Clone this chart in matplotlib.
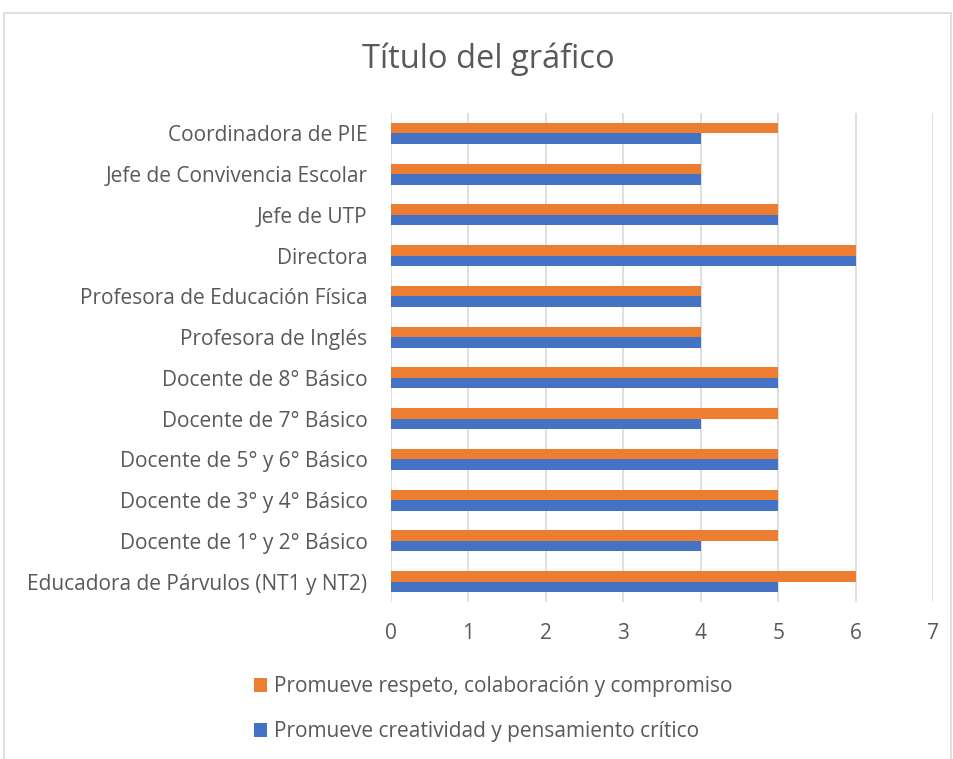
import numpy as np
import matplotlib.pyplot as plt
from matplotlib.patches import Rectangle

categories = [
    "Educadora de Párvulos (NT1 y NT2)",
    "Docente de 1° y 2° Básico",
    "Docente de 3° y 4° Básico",
    "Docente de 5° y 6° Básico",
    "Docente de 7° Básico",
    "Docente de 8° Básico",
    "Profesora de Inglés",
    "Profesora de Educación Física",
    "Directora",
    "Jefe de UTP",
    "Jefe de Convivencia Escolar",
    "Coordinadora de PIE",
]
creatividad = [5, 4, 5, 5, 4, 5, 4, 4, 6, 5, 4, 4]
respeto = [6, 5, 5, 5, 5, 5, 4, 4, 6, 5, 4, 5]

label_creatividad = "Promueve creatividad y pensamiento crítico"
label_respeto = "Promueve respeto, colaboración y compromiso"

plt.rcParams['font.family'] = ['Open Sans', 'DejaVu Sans']
gray = "#595959"

fig = plt.figure(figsize=(9.54, 7.59), dpi=100)
fig.patches.append(Rectangle((4.5 / 954, -0.05), 947 / 954, 1.05 - 13 / 759,
                             transform=fig.transFigure, fill=False,
                             edgecolor="#d9d9d9", linewidth=1.2))

ax = fig.add_axes([391 / 954, 1 - 602 / 759, 542 / 954, 489 / 759])

y = np.arange(len(categories))
h = 0.26
b1 = ax.barh(y - h / 2, creatividad, height=h, color="#4472C4", label=label_creatividad, zorder=3)
b2 = ax.barh(y + h / 2, respeto, height=h, color="#ED7D31", label=label_respeto, zorder=3)

ax.set_xlim(0, 7)
ax.set_ylim(-0.5, len(categories) - 0.5)
ax.set_xticks(range(8))
ax.set_yticks(y)
ax.set_yticklabels(categories)
ax.grid(axis='x', color="#d9d9d9", linewidth=1.2, zorder=0)
for s in ax.spines.values():
    s.set_visible(False)
ax.tick_params(axis='both', length=0, labelsize=15, labelcolor=gray)
ax.tick_params(axis='y', pad=17)
ax.tick_params(axis='x', pad=15)

fig.text(488 / 954, 1 - 59 / 759, "Título del gráfico", ha='center', va='center',
         fontsize=23.5, color=gray)

fig.legend([b2, b1], [label_respeto, label_creatividad], loc='center',
           bbox_to_anchor=(493 / 954, 1 - 709 / 759), frameon=False,
           fontsize=15, labelcolor=gray, handlelength=0.65, handleheight=0.65,
           handletextpad=0.3, labelspacing=1.15)

fig.savefig("out.png", dpi=100)
